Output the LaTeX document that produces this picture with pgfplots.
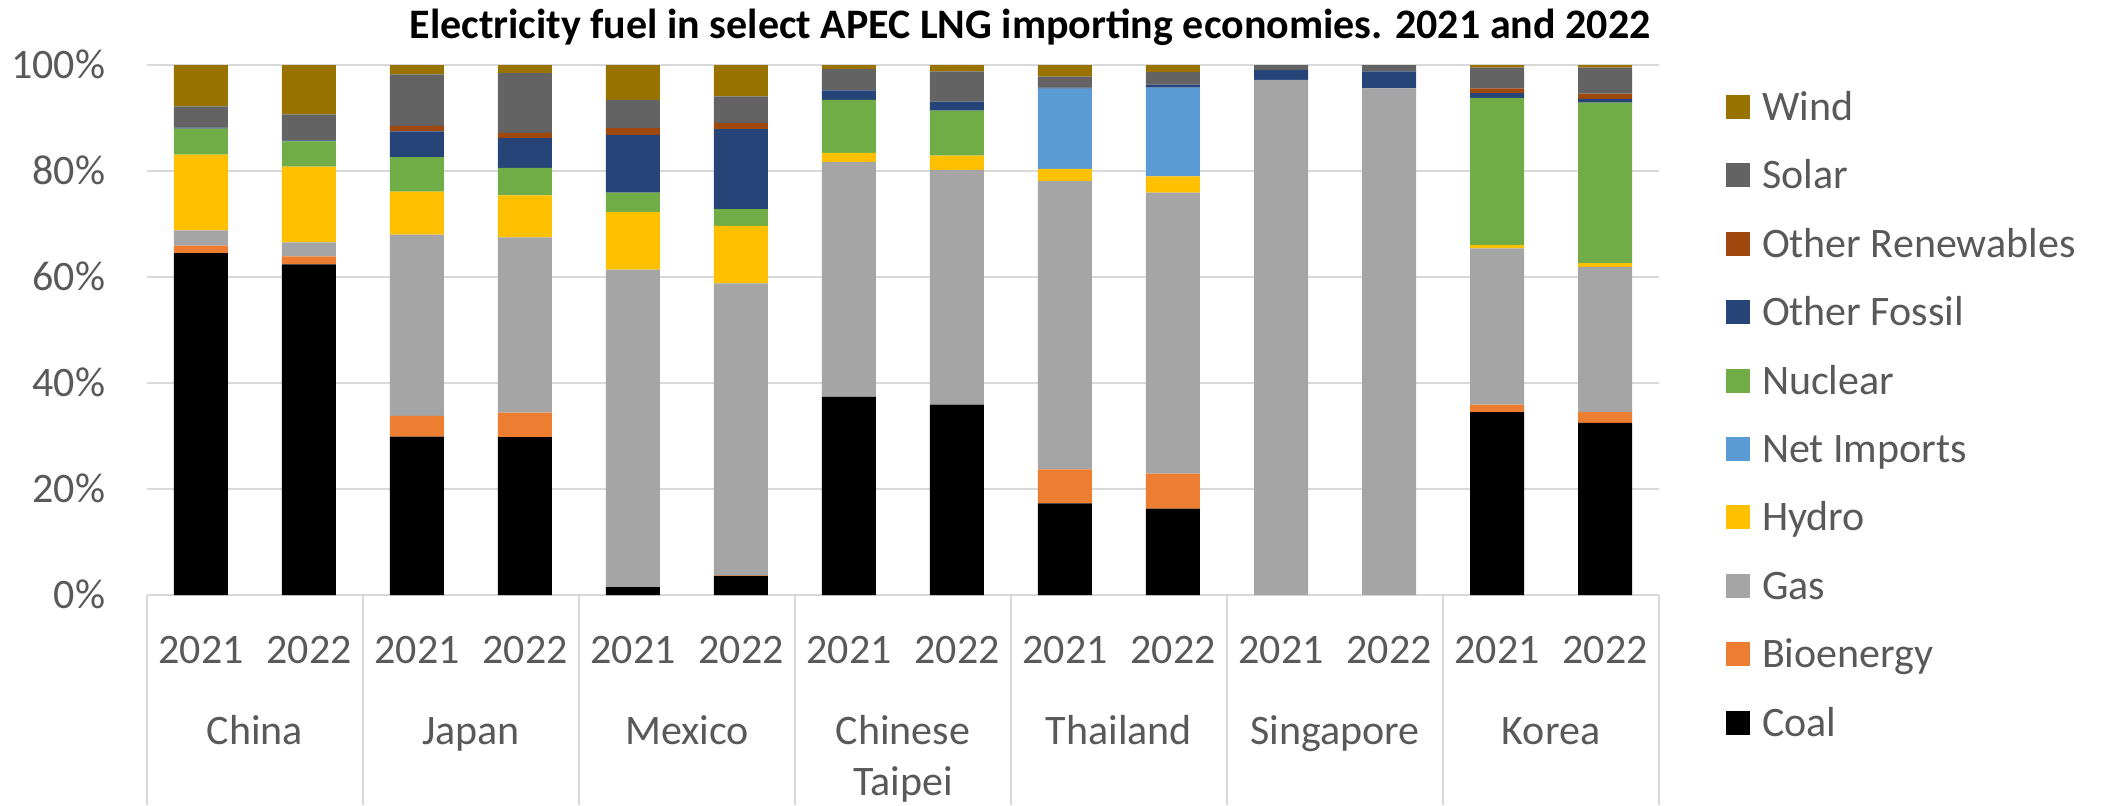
\documentclass[border=0pt]{standalone}
\usepackage{fontspec}
\setmainfont{Carlito}
\usepackage{pgfplots}
\pgfplotsset{compat=1.18}
\usepackage{pgfplotstable}
\definecolor{cCoal}{HTML}{000000}
\definecolor{cBio}{HTML}{ED7D31}
\definecolor{cGas}{HTML}{A5A5A5}
\definecolor{cHydro}{HTML}{FFC000}
\definecolor{cNet}{HTML}{5B9BD5}
\definecolor{cNuc}{HTML}{70AD47}
\definecolor{cOF}{HTML}{264478}
\definecolor{cOR}{HTML}{9E480E}
\definecolor{cSolar}{HTML}{636363}
\definecolor{cWind}{HTML}{997300}
\definecolor{txt}{HTML}{595959}
\definecolor{gridc}{HTML}{D9D9D9}
\newcommand\lbl{\fontsize{10.5pt}{12.75pt}\selectfont}

\pgfplotstableread{
x Coal Bio Gas Hydro NetImp Nuclear OFossil ORenew Solar Wind
0 64.5 1.4 2.9 14.3 0 4.9 0.2 0 4.0 7.8
1 62.4 1.5 2.65 14.3 0 4.75 0.2 0 4.9 9.3
2 29.9 3.9 34.2 8.1 0 6.5 4.9 1.0 9.75 1.75
3 29.8 4.6 33.1 7.9 0 5.2 5.6 1.0 11.25 1.55
4 1.5 0 59.9 10.9 0 3.6 10.9 1.3 5.3 6.6
5 3.6 0.1 55.1 10.85 0 3.15 15.1 1.2 5.0 5.9
6 37.4 0 44.3 1.7 0 10.0 1.8 0 4.0 0.8
7 35.9 0 44.3 2.7 0 8.5 1.7 0 5.7 1.2
8 17.3 6.4 54.4 2.3 15.15 0 0.2 0 2.05 2.2
9 16.3 6.6 53.0 3.1 16.75 0 0.55 0 2.35 1.35
10 0 0 97.2 0 0 0 1.9 0 0.9 0
11 0 0 95.6 0 0 0 3.2 0 1.2 0
12 34.5 1.4 29.5 0.6 0 27.8 0.9 0.9 3.9 0.5
13 32.5 2.0 27.4 0.7 0 30.3 0.7 1.0 4.9 0.5
}\datatable

\begin{document}
\begin{tikzpicture}
\path[use as bounding box] (-36.75pt,-52.5pt) rectangle (489pt,148.75pt);
\begin{axis}[
  at={(0pt,0pt)}, anchor=south west,
  scale only axis, width=378pt, height=132.5pt,
  ybar stacked, bar width=13.5pt,
  xmin=-0.5, xmax=13.5, ymin=0, ymax=100,
  axis line style={draw=none},
  ymajorgrids, major grid style={draw=gridc, line width=0.4pt},
  xtick={0,1,2,3,4,5,6,7,8,9,10,11,12,13},
  xticklabels={2021,2022,2021,2022,2021,2022,2021,2022,2021,2022,2021,2022,2021,2022},
  minor xtick={-0.5,1.5,3.5,5.5,7.5,9.5,11.5,13.5},
  major tick length=0pt, minor tick length=52.5pt, tick align=outside,
  xtick pos=bottom, ytick pos=left,
  minor tick style={draw=gridc, line width=0.4pt},
  ytick style={draw=none},
  ytick={0,20,40,60,80,100},
  yticklabels={0\%,20\%,40\%,60\%,80\%,100\%},
  tick label style={font=\lbl, text=txt},
  yticklabel style={anchor=east, inner sep=0pt, xshift=-10.25pt, text height=6.6pt, text depth=0pt},
  xticklabel style={anchor=base, inner sep=0pt, yshift=-17pt},
  extra x ticks={0.5,2.5,4.5,6.5,8.5,10.5,12.5},
  extra x tick labels={China,Japan,Mexico,{\parbox[t]{5em}{\centering Chinese\\Taipei}},Thailand,Singapore,Korea},
  extra x tick style={major tick length=0pt, xticklabel style={yshift=-20.25pt}},
  title={Electricity fuel in select APEC LNG importing economies. 2021 and 2022},
  title style={at={(0.584,1)}, anchor=base, yshift=0.75pt, font=\lbl\bfseries, text=black, inner sep=0pt},
  legend style={at={(1,1)}, anchor=north west, xshift=16.75pt, yshift=-5.38pt, draw=none, fill=none,
    inner sep=0pt, outer sep=0pt, row sep=6.86pt, column sep=3pt, font=\lbl, text=txt,
    nodes={inner sep=0pt, text height=8.5pt, text depth=1.74pt}},
  legend cell align=left,
  reverse legend,
  legend image code/.code={\path[#1,draw=none] (0pt,-3pt) rectangle (6pt,3pt);},
]
\addplot[fill=cCoal, draw=none] table[x=x,y=Coal]{\datatable}; \addlegendentry{Coal}
\addplot[fill=cBio, draw=none] table[x=x,y=Bio]{\datatable}; \addlegendentry{Bioenergy}
\addplot[fill=cGas, draw=none] table[x=x,y=Gas]{\datatable}; \addlegendentry{Gas}
\addplot[fill=cHydro, draw=none] table[x=x,y=Hydro]{\datatable}; \addlegendentry{Hydro}
\addplot[fill=cNet, draw=none] table[x=x,y=NetImp]{\datatable}; \addlegendentry{Net Imports}
\addplot[fill=cNuc, draw=none] table[x=x,y=Nuclear]{\datatable}; \addlegendentry{Nuclear}
\addplot[fill=cOF, draw=none] table[x=x,y=OFossil]{\datatable}; \addlegendentry{Other Fossil}
\addplot[fill=cOR, draw=none] table[x=x,y=ORenew]{\datatable}; \addlegendentry{Other Renewables}
\addplot[fill=cSolar, draw=none] table[x=x,y=Solar]{\datatable}; \addlegendentry{Solar}
\addplot[fill=cWind, draw=none] table[x=x,y=Wind]{\datatable}; \addlegendentry{Wind}
\end{axis}
\end{tikzpicture}
\end{document}
